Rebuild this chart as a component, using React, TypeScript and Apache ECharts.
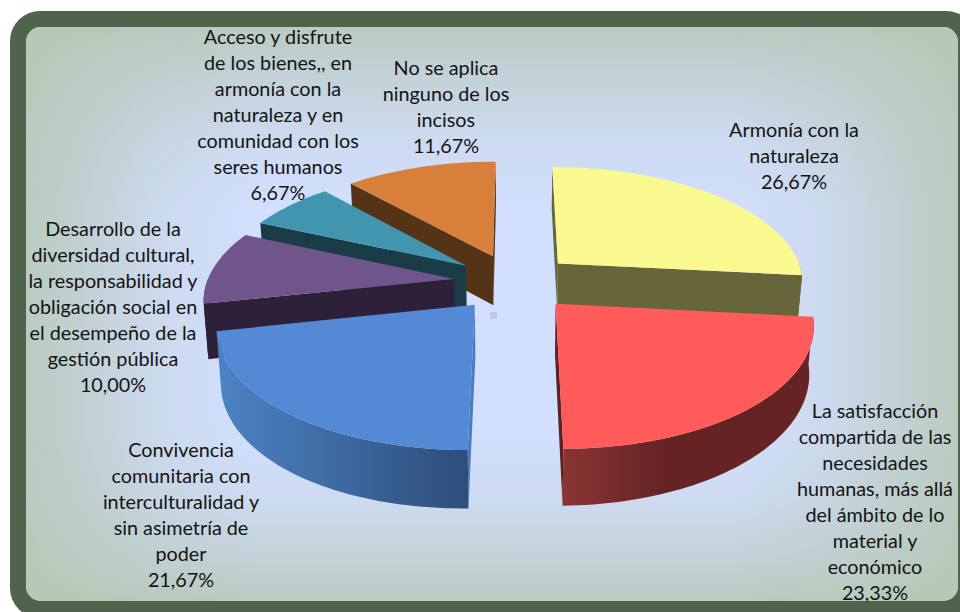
import React, { useEffect, useRef } from "react";
import * as echarts from "echarts";

const labelLines: string[][] = [
  ["Armonía con la", "naturaleza"],
  ["La satisfacción", "compartida de las", "necesidades", "humanas, más allá", "del ámbito de lo", "material y", "económico"],
  ["Convivencia", "comunitaria con", "interculturalidad y", "sin asimetría de", "poder"],
  ["Desarrollo de la", "diversidad cultural,", "la responsabilidad y", "obligación social en", "el desempeño de la", "gestión pública"],
  ["Acceso y disfrute", "de los bienes,, en", "armonía con la", "naturaleza y en", "comunidad con los", "seres humanos"],
  ["No se aplica", "ninguno de los", "incisos"],
];
const values = [26.67, 23.33, 21.67, 10.0, 6.67, 11.67];
const topColors = ["#F9F98F", "#FF5B5B", "#548AD5", "#70548C", "#4295AE", "#D8803B"];
const cutColors = ["#66663A", "#5E2020", "#4A7DBE", "#2C2138", "#1A3B47", "#553316"];
const wallStops: [string, string, number, number][] = [
  ["#66663A", "#66663A", 550, 810],
  ["#8A3434", "#652323", 565, 665],
  ["#4C82C3", "#2E4D7A", 222, 468],
  ["#2C2138", "#2C2138", 200, 460],
  ["#1A3B47", "#1A3B47", 255, 470],
  ["#553316", "#553316", 345, 500],
];
const labelCenters: [number, number][] = [
  [794, 129], [875, 410], [181, 449], [113, 228], [278, 36], [446, 67],
];
const drawOrder = [0, 5, 4, 3, 1, 2];

const CX = 514, CY = 282, RX = 247, RY = 116, PERSP = 0.15, EXPLODE = 0.245;
const total = values.reduce((a, b) => a + b, 0);
const rad = (d: number) => (d * Math.PI) / 180;

function project(x: number, y: number, bottom: boolean): number[] {
  const w = 1 - PERSP * y;
  let sx = CX + (RX * x) / w;
  let sy = CY + (RY * y) / w;
  if (bottom) {
    sy += 50 - 3.5 * x + 6.5 * y;
    sx = CX + (sx - CX) * 0.985;
  }
  return [sx, sy];
}

const cross = (a: number[], o: number[], b: number[]) =>
  (a[0] - o[0]) * (b[1] - o[1]) - (a[1] - o[1]) * (b[0] - o[0]);

function renderSlice(_: any, api: any) {
  const i = api.value(0) as number;
  let start = 0;
  for (let k = 0; k < i; k++) start += (values[k] / total) * 360;
  const end = start + (values[i] / total) * 360;
  const midDeg = (start + end) / 2;
  const mid = rad(midDeg);
  const ox = EXPLODE * Math.sin(mid);
  const oy = -EXPLODE * Math.cos(mid);
  const at = (deg: number, bottom: boolean) =>
    project(ox + Math.sin(rad(deg)), oy - Math.cos(rad(deg)), bottom);
  const apexT = project(ox, oy, false);
  const apexB = project(ox, oy, true);
  const arc = (a: number, b: number, bottom: boolean) => {
    const steps = Math.max(2, Math.ceil((b - a) / 1.5));
    const pts: number[][] = [];
    for (let s = 0; s <= steps; s++) pts.push(at(a + ((b - a) * s) / steps, bottom));
    return pts;
  };
  const arcT = arc(start, end, false);
  const inner = at(midDeg, false);
  const children: any[] = [];
  [start, end].forEach((deg) => {
    const t = at(deg, false);
    const b = at(deg, true);
    const faceSide = cross(t, apexT, b) + cross(t, apexT, apexB);
    if (faceSide * cross(t, apexT, inner) < 0) {
      children.push({
        type: "polygon",
        shape: { points: [apexT, t, b, apexB] },
        style: { fill: cutColors[i] },
      });
    }
  });
  const ws = Math.max(start, 90);
  const we = Math.min(end, 270);
  if (we > ws) {
    const w = wallStops[i];
    children.push({
      type: "polygon",
      shape: { points: [...arc(ws, we, false), ...arc(ws, we, true).reverse()] },
      style: {
        fill: new echarts.graphic.LinearGradient(
          w[2], 0, w[3], 0,
          [{ offset: 0, color: w[0] }, { offset: 1, color: w[1] }],
          true
        ),
      },
    });
  }
  children.push({ type: "polygon", shape: { points: [apexT, ...arcT] }, style: { fill: topColors[i] } });
  const n = labelLines[i].length + 1;
  children.push({
    type: "text",
    z2: 100,
    style: {
      x: labelCenters[i][0],
      y: labelCenters[i][1] + ((n - 1) * 26) / 2,
      text: [...labelLines[i], values[i].toFixed(2).replace(".", ",") + "%"].join("\n"),
      fill: "#141414",
      fontFamily: "Lato",
      fontSize: 19.8,
      lineHeight: 26,
      align: "center",
      verticalAlign: "middle",
    },
  });
  return { type: "group", children };
}

const EDGE = "181,199,181";
const edgeFade = (x2: number, y2: number, stops: [number, number][]) =>
  new echarts.graphic.LinearGradient(
    0, 0, x2, y2,
    stops.map(([offset, a]) => ({ offset, color: `rgba(${EDGE},${a})` }))
  );
const panel = { x: 26, y: 27, width: 932, height: 574, r: 15 };

export default function App() {
  const ref = useRef<HTMLDivElement>(null);
  useEffect(() => {
    const chart = echarts.init(ref.current!, null, { renderer: "svg" });
    chart.setOption({
      animation: false,
      graphic: [
        { type: "rect", z: -5, shape: { x: 10, y: 11, width: 966, height: 607, r: 30 }, style: { fill: "#50634D" } },
        { type: "rect", z: -4, shape: panel, style: { fill: "#D3DFFF" } },
        {
          type: "rect",
          z: -3,
          shape: panel,
          style: {
            fill: edgeFade(1, 0, [
              [0, 0.85], [0.06, 0.6], [0.14, 0.25], [0.24, 0], [0.76, 0], [0.86, 0.25], [0.94, 0.6], [1, 0.85],
            ]),
          },
        },
        {
          type: "rect",
          z: -2,
          shape: panel,
          style: {
            fill: edgeFade(0, 1, [
              [0, 0.85], [0.08, 0.55], [0.2, 0.2], [0.32, 0], [0.7, 0], [0.82, 0.2], [0.93, 0.55], [1, 0.85],
            ]),
          },
        },
        { type: "rect", z: -1, shape: { x: 490, y: 312, width: 7, height: 7 }, style: { fill: "#BFC8EA" } },
      ],
      series: [
        {
          type: "custom",
          coordinateSystem: "none",
          silent: true,
          renderItem: renderSlice,
          data: drawOrder.map((i) => [i]),
        },
      ],
    });
    return () => chart.dispose();
  }, []);
  return <div ref={ref} style={{ position: "absolute", left: 0, top: 0, width: 960, height: 612 }} />;
}
